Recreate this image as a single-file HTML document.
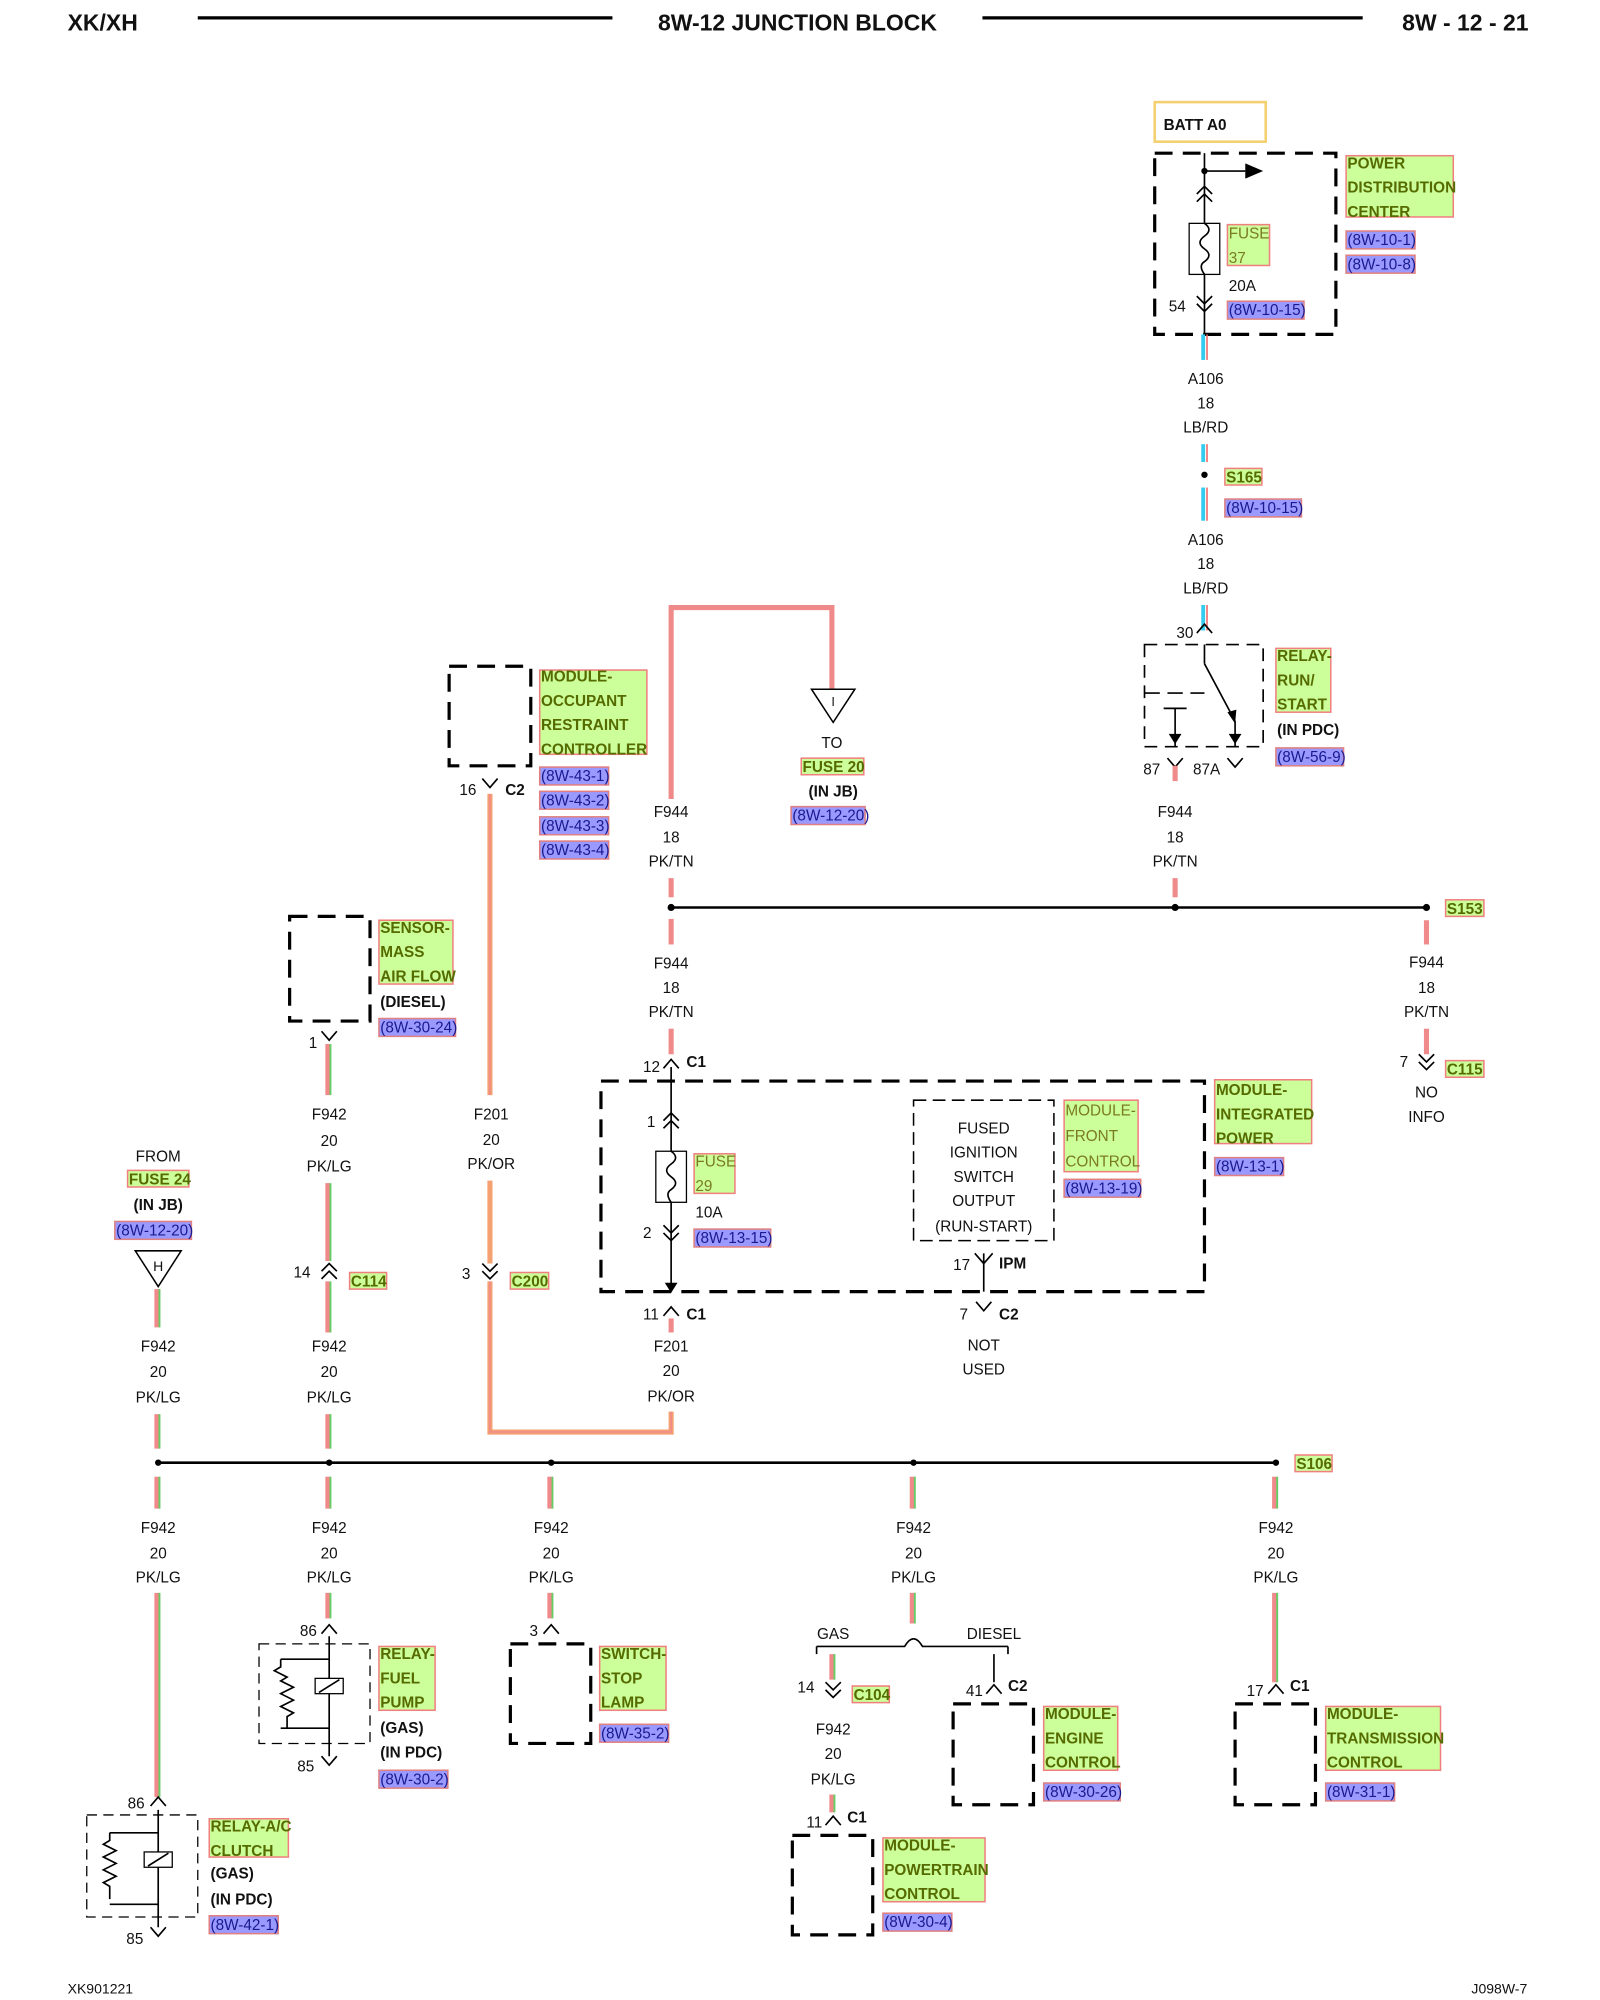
<!DOCTYPE html>
<html><head><meta charset="utf-8"><style>
html,body{margin:0;padding:0;background:#fff}
svg{display:block}
text{font-family:"Liberation Sans",sans-serif;font-size:12px;fill:#111}
.m{text-anchor:middle}
.b{font-weight:bold}
.g{fill:#556b00;font-weight:bold}
.gl{fill:#7a7a20}
.r{fill:#1a1a90}
.gb{fill:#ccff99;stroke:#f08080;stroke-width:1.2}
.rb{fill:#9999ff;stroke:#e08080;stroke-width:1.2}
.d{fill:none;stroke:#000;stroke-width:2.5;stroke-dasharray:14,8}
.k{stroke:#000;stroke-width:1.3;fill:none}
.pk{stroke:#f08a8a;stroke-width:4}
.lg{stroke:#66cc66;stroke-width:1.5}
.or{stroke:#f4a070;stroke-width:4}
</style></head><body>
<svg width="1600" height="2000" viewBox="0 0 1254 1567" preserveAspectRatio="none" xmlns="http://www.w3.org/2000/svg">
<defs>
<path id="cd" d="M-6,-6 L0,0 L6,-6 M-6,0 L0,6 L6,0" stroke="#000" stroke-width="1.3" fill="none"/>
<path id="cu" d="M-6,6 L0,0 L6,6 M-6,0 L0,-6 L6,0" stroke="#000" stroke-width="1.3" fill="none"/>
<path id="sd" d="M-6,-4 L0,3 L6,-4" stroke="#000" stroke-width="1.3" fill="none"/>
<path id="su" d="M-6,4 L0,-3 L6,4" stroke="#000" stroke-width="1.3" fill="none"/>
</defs>
<!-- header -->
<text x="53" y="24" class="b" style="font-size:18px">XK/XH</text>
<line x1="155" y1="14" x2="480" y2="14" stroke="#000" stroke-width="2.5"/>
<text x="625" y="24" class="b m" style="font-size:18px">8W-12 JUNCTION BLOCK</text>
<line x1="770" y1="14" x2="1068" y2="14" stroke="#000" stroke-width="2.5"/>
<text x="1198" y="24" class="b" text-anchor="end" style="font-size:18px">8W - 12 - 21</text>

<!-- PDC -->
<rect x="905" y="80" width="87" height="31" fill="#fff" stroke="#f5d070" stroke-width="2"/>
<text x="912" y="102" class="b">BATT A0</text>
<rect x="905" y="120" width="142" height="142" class="d"/>
<line x1="944" y1="120" x2="944" y2="262" class="k"/>
<circle cx="944" cy="134" r="2.5"/>
<line x1="944" y1="134" x2="976" y2="134" class="k"/>
<path d="M976,128 L990,134 L976,140Z"/>
<use href="#cu" x="944" y="152"/>
<rect x="932" y="175" width="24" height="40" fill="#fff" stroke="#000"/>
<path d="M944,175 q7,5 0,10 q-7,5 0,10 q7,5 0,10 q-5,3 0,10" class="k"/>
<rect x="962" y="176" width="33" height="32" class="gb"/>
<text x="963" y="187" class="gl">FUSE</text><text x="963" y="206" class="gl">37</text>
<text x="963" y="228">20A</text>
<text x="916" y="244">54</text>
<use href="#cd" x="944" y="238"/>
<rect x="962" y="236" width="60" height="14" class="rb"/><text x="963" y="247" class="r">(8W-10-15)</text>
<rect x="1055" y="122" width="84" height="48" class="gb"/>
<text x="1056" y="132" class="g">POWER</text><text x="1056" y="151" class="g">DISTRIBUTION</text><text x="1056" y="170" class="g">CENTER</text>
<rect x="1055" y="181" width="54" height="14" class="rb"/><text x="1056" y="192" class="r">(8W-10-1)</text>
<rect x="1055" y="200" width="54" height="14" class="rb"/><text x="1056" y="211" class="r">(8W-10-8)</text>

<!-- A106 -->
<line x1="943" y1="262" x2="943" y2="282" stroke="#33ccee" stroke-width="3"/><line x1="946" y1="262" x2="946" y2="282" stroke="#ee6666" stroke-width="1.2"/>
<text x="945" y="301" class="m">A106</text><text x="945" y="320" class="m">18</text><text x="945" y="339" class="m">LB/RD</text>
<line x1="943" y1="348" x2="943" y2="362" stroke="#33ccee" stroke-width="3"/><line x1="946" y1="348" x2="946" y2="362" stroke="#ee6666" stroke-width="1.2"/>
<circle cx="944" cy="372" r="2.5"/>
<rect x="960" y="367" width="29" height="13" class="gb"/><text x="961" y="378" class="g">S165</text>
<line x1="943" y1="382" x2="943" y2="408" stroke="#33ccee" stroke-width="3"/><line x1="946" y1="382" x2="946" y2="408" stroke="#ee6666" stroke-width="1.2"/>
<rect x="960" y="391" width="60" height="14" class="rb"/><text x="961" y="402" class="r">(8W-10-15)</text>
<text x="945" y="427" class="m">A106</text><text x="945" y="446" class="m">18</text><text x="945" y="465" class="m">LB/RD</text>
<line x1="943" y1="474" x2="943" y2="494" stroke="#33ccee" stroke-width="3"/><line x1="946" y1="474" x2="946" y2="494" stroke="#ee6666" stroke-width="1.2"/>
<text x="922" y="500">30</text>
<use href="#su" x="944" y="492"/>
<!-- relay run/start -->
<rect x="897" y="505" width="93" height="80" class="d" style="stroke-width:1.3;stroke-dasharray:10,6"/>
<line x1="944" y1="505" x2="944" y2="520" class="k"/>
<path d="M944,520 L968,565" class="k"/><path d="M962,558 L968,567 L969,556Z"/>
<line x1="897" y1="543" x2="944" y2="543" class="k" stroke-dasharray="12,6"/>
<line x1="921" y1="555" x2="921" y2="585" class="k"/><line x1="912" y1="555" x2="930" y2="555" class="k"/><path d="M916,575 L921,583 L926,575Z"/>
<line x1="968" y1="565" x2="968" y2="585" class="k"/><path d="M963,575 L968,583 L973,575Z"/>
<rect x="1000" y="508" width="43" height="50" class="gb"/>
<text x="1001" y="518" class="g">RELAY-</text><text x="1001" y="537" class="g">RUN/</text><text x="1001" y="556" class="g">START</text>
<text x="1001" y="576" class="b">(IN PDC)</text>
<rect x="1000" y="586" width="53" height="14" class="rb"/><text x="1001" y="597" class="r">(8W-56-9)</text>
<text x="896" y="607">87</text><text x="935" y="607">87A</text>
<use href="#sd" x="921" y="598"/><use href="#sd" x="968" y="598"/>
<text x="921" y="640" class="m">F944</text><text x="921" y="660" class="m">18</text><text x="921" y="679" class="m">PK/TN</text>
<line x1="921" y1="600" x2="921" y2="612" class="pk"/>
<line x1="921" y1="688" x2="921" y2="703" class="pk"/>

<!-- bus 1 -->
<line x1="526" y1="711" x2="1118" y2="711" stroke="#000" stroke-width="2"/>
<circle cx="526" cy="711" r="2.8"/><circle cx="921" cy="711" r="2.8"/><circle cx="1118" cy="711" r="2.8"/>
<rect x="1133" y="705" width="30" height="13" class="gb"/><text x="1134" y="716" class="g">S153</text>
<line x1="1118" y1="721" x2="1118" y2="740" class="pk"/>
<text x="1118" y="758" class="m">F944</text><text x="1118" y="778" class="m">18</text><text x="1118" y="797" class="m">PK/TN</text>
<line x1="1118" y1="806" x2="1118" y2="826" class="pk"/>
<use href="#cd" x="1118" y="832"/>
<text x="1097" y="836">7</text>
<rect x="1133" y="831" width="30" height="13" class="gb"/><text x="1134" y="842" class="g">C115</text>
<text x="1118" y="860" class="m">NO</text><text x="1118" y="879" class="m">INFO</text>

<!-- top loop to fuse 20 -->
<path d="M526,626 L526,476 L652,476 L652,540" fill="none" class="pk"/>
<path d="M636,540 L670,540 L653,566Z" fill="#fff" stroke="#000" stroke-width="1.2"/>
<text x="653" y="553" class="m" style="font-size:10px">I</text>
<text x="652" y="586" class="m">TO</text>
<rect x="628" y="594" width="49" height="13" class="gb"/><text x="629" y="605" class="g">FUSE 20</text>
<text x="653" y="624" class="m b">(IN JB)</text>
<rect x="620" y="632" width="58" height="14" class="rb"/><text x="621" y="643" class="r">(8W-12-20)</text>
<text x="526" y="640" class="m">F944</text><text x="526" y="660" class="m">18</text><text x="526" y="679" class="m">PK/TN</text>
<line x1="526" y1="688" x2="526" y2="703" class="pk"/>
<line x1="526" y1="720" x2="526" y2="740" class="pk"/>
<text x="526" y="759" class="m">F944</text><text x="526" y="778" class="m">18</text><text x="526" y="797" class="m">PK/TN</text>
<line x1="526" y1="806" x2="526" y2="826" class="pk"/>
<text x="504" y="840">12</text><text x="538" y="836" class="b">C1</text>
<use href="#su" x="526" y="833"/>

<!-- junction block -->
<rect x="471" y="847" width="473" height="165" class="d"/>
<line x1="526" y1="836" x2="526" y2="1012" class="k"/>
<use href="#cu" x="526" y="878"/>
<text x="507" y="883">1</text>
<rect x="514" y="902" width="24" height="40" fill="#fff" stroke="#000"/>
<path d="M526,902 q7,5 0,10 q-7,5 0,10 q7,5 0,10 q-5,3 0,10" class="k"/>
<rect x="544" y="904" width="32" height="31" class="gb"/>
<text x="545" y="914" class="gl">FUSE</text><text x="545" y="933" class="gl">29</text>
<text x="545" y="954">10A</text>
<rect x="544" y="963" width="60" height="14" class="rb"/><text x="545" y="974" class="r">(8W-13-15)</text>
<text x="504" y="970">2</text>
<use href="#cd" x="526" y="966"/>
<path d="M521,1005 L526,1013 L531,1005Z"/>
<rect x="716" y="862" width="110" height="110" class="d" style="stroke-width:1.2;stroke-dasharray:10,5"/>
<text x="771" y="888" class="m">FUSED</text><text x="771" y="907" class="m">IGNITION</text><text x="771" y="926" class="m">SWITCH</text><text x="771" y="945" class="m">OUTPUT</text><text x="771" y="965" class="m">(RUN-START)</text>
<rect x="834" y="862" width="58" height="56" class="gb"/>
<text x="835" y="874" class="gl">MODULE-</text><text x="835" y="894" class="gl">FRONT</text><text x="835" y="914" class="gl">CONTROL</text>
<rect x="834" y="924" width="60" height="14" class="rb"/><text x="835" y="935" class="r">(8W-13-19)</text>
<line x1="771" y1="982" x2="771" y2="1012" class="k"/>
<path d="M764,982 L771,990 L778,982" class="k"/>
<text x="747" y="995">17</text><text x="783" y="994" class="b">IPM</text>
<rect x="952" y="846" width="76" height="50" class="gb"/>
<text x="953" y="858" class="g">MODULE-</text><text x="953" y="877" class="g">INTEGRATED</text><text x="953" y="896" class="g">POWER</text>
<rect x="952" y="907" width="54" height="14" class="rb"/><text x="953" y="918" class="r">(8W-13-1)</text>
<text x="752" y="1034">7</text><use href="#sd" x="771" y="1024"/><text x="783" y="1034" class="b">C2</text>
<text x="771" y="1058" class="m">NOT</text><text x="771" y="1077" class="m">USED</text>
<text x="504" y="1034">11</text><use href="#su" x="526" y="1027"/><text x="538" y="1034" class="b">C1</text>

<!-- F201 -->
<line x1="526" y1="1033" x2="526" y2="1044" class="pk"/>
<text x="526" y="1059" class="m">F201</text><text x="526" y="1078" class="m">20</text><text x="526" y="1098" class="m">PK/OR</text>
<path d="M526,1106 L526,1122 L384,1122 L384,1004" fill="none" class="or"/>
<path d="M526,1106 L526,1122 L384,1122 L384,1004" fill="none" stroke="#f08a8a" stroke-width="1.2"/>
<line x1="384" y1="622" x2="384" y2="858" class="or"/><line x1="384" y1="622" x2="384" y2="858" stroke="#f08a8a" stroke-width="1.2"/>
<text x="385" y="877" class="m">F201</text><text x="385" y="897" class="m">20</text><text x="385" y="916" class="m">PK/OR</text>
<line x1="384" y1="925" x2="384" y2="990" class="or"/>
<use href="#cd" x="384" y="996"/>
<text x="362" y="1002">3</text>
<rect x="400" y="997" width="30" height="13" class="gb"/><text x="401" y="1008" class="g">C200</text>

<!-- MORC -->
<rect x="352" y="522" width="64" height="78" class="d"/>
<rect x="423" y="525" width="84" height="66" class="gb"/>
<text x="424" y="534" class="g">MODULE-</text><text x="424" y="553" class="g">OCCUPANT</text><text x="424" y="572" class="g">RESTRAINT</text><text x="424" y="591" class="g">CONTROLLER</text>
<rect x="423" y="601" width="54" height="14" class="rb"/><text x="424" y="612" class="r">(8W-43-1)</text>
<rect x="423" y="620" width="54" height="14" class="rb"/><text x="424" y="631" class="r">(8W-43-2)</text>
<rect x="423" y="640" width="54" height="14" class="rb"/><text x="424" y="651" class="r">(8W-43-3)</text>
<rect x="423" y="659" width="54" height="14" class="rb"/><text x="424" y="670" class="r">(8W-43-4)</text>
<text x="360" y="623">16</text><use href="#sd" x="384" y="614"/><text x="396" y="623" class="b">C2</text>

<!-- MAF -->
<rect x="227" y="718" width="63" height="82" class="d"/>
<rect x="297" y="721" width="58" height="50" class="gb"/>
<text x="298" y="731" class="g">SENSOR-</text><text x="298" y="750" class="g">MASS</text><text x="298" y="769" class="g">AIR FLOW</text>
<text x="298" y="789" class="b">(DIESEL)</text>
<rect x="297" y="798" width="60" height="14" class="rb"/><text x="298" y="809" class="r">(8W-30-24)</text>
<text x="242" y="821">1</text><use href="#sd" x="258" y="812"/>
<g>
<line x1="257" y1="818" x2="257" y2="858" class="pk"/><line x1="259" y1="818" x2="259" y2="858" class="lg"/>
<line x1="257" y1="927" x2="257" y2="988" class="pk"/><line x1="259" y1="927" x2="259" y2="988" class="lg"/>
<line x1="257" y1="1004" x2="257" y2="1044" class="pk"/><line x1="259" y1="1004" x2="259" y2="1044" class="lg"/>
<line x1="257" y1="1108" x2="257" y2="1135" class="pk"/><line x1="259" y1="1108" x2="259" y2="1135" class="lg"/>
</g>
<text x="258" y="877" class="m">F942</text><text x="258" y="898" class="m">20</text><text x="258" y="918" class="m">PK/LG</text>
<text x="230" y="1001">14</text><use href="#cu" x="258" y="996"/>
<rect x="274" y="997" width="29" height="13" class="gb"/><text x="275" y="1008" class="g">C114</text>
<text x="258" y="1059" class="m">F942</text><text x="258" y="1079" class="m">20</text><text x="258" y="1099" class="m">PK/LG</text>

<!-- left from fuse 24 -->
<text x="124" y="910" class="m">FROM</text>
<rect x="100" y="917" width="48" height="13" class="gb"/><text x="101" y="928" class="g">FUSE 24</text>
<text x="124" y="948" class="m b">(IN JB)</text>
<rect x="90" y="957" width="60" height="14" class="rb"/><text x="91" y="968" class="r">(8W-12-20)</text>
<path d="M106,980 L142,980 L124,1008Z" fill="#fff" stroke="#000" stroke-width="1.2"/>
<text x="124" y="996" class="m" style="font-size:11px">H</text>
<line x1="123" y1="1010" x2="123" y2="1040" class="pk"/><line x1="125" y1="1010" x2="125" y2="1040" class="lg"/>
<text x="124" y="1059" class="m">F942</text><text x="124" y="1079" class="m">20</text><text x="124" y="1099" class="m">PK/LG</text>
<line x1="123" y1="1108" x2="123" y2="1135" class="pk"/><line x1="125" y1="1108" x2="125" y2="1135" class="lg"/>

<!-- bus 2 -->
<line x1="124" y1="1146" x2="1000" y2="1146" stroke="#000" stroke-width="2"/>
<circle cx="124" cy="1146" r="2.5"/><circle cx="258" cy="1146" r="2.5"/><circle cx="432" cy="1146" r="2.5"/><circle cx="716" cy="1146" r="2.5"/><circle cx="1000" cy="1146" r="2.5"/>
<rect x="1015" y="1140" width="29" height="13" class="gb"/><text x="1016" y="1151" class="g">S106</text>
<g>
<line x1="123" y1="1157" x2="123" y2="1182" class="pk"/><line x1="125" y1="1157" x2="125" y2="1182" class="lg"/>
<line x1="257" y1="1157" x2="257" y2="1182" class="pk"/><line x1="259" y1="1157" x2="259" y2="1182" class="lg"/>
<line x1="431" y1="1157" x2="431" y2="1182" class="pk"/><line x1="433" y1="1157" x2="433" y2="1182" class="lg"/>
<line x1="715" y1="1157" x2="715" y2="1182" class="pk"/><line x1="717" y1="1157" x2="717" y2="1182" class="lg"/>
<line x1="999" y1="1157" x2="999" y2="1182" class="pk"/><line x1="1001" y1="1157" x2="1001" y2="1182" class="lg"/>
</g>
<text x="124" y="1201" class="m">F942</text><text x="124" y="1221" class="m">20</text><text x="124" y="1240" class="m">PK/LG</text>
<text x="258" y="1201" class="m">F942</text><text x="258" y="1221" class="m">20</text><text x="258" y="1240" class="m">PK/LG</text>
<text x="432" y="1201" class="m">F942</text><text x="432" y="1221" class="m">20</text><text x="432" y="1240" class="m">PK/LG</text>
<text x="716" y="1201" class="m">F942</text><text x="716" y="1221" class="m">20</text><text x="716" y="1240" class="m">PK/LG</text>
<text x="1000" y="1201" class="m">F942</text><text x="1000" y="1221" class="m">20</text><text x="1000" y="1240" class="m">PK/LG</text>

<!-- relay A/C -->
<line x1="123" y1="1248" x2="123" y2="1408" class="pk"/><line x1="125" y1="1248" x2="125" y2="1408" class="lg"/>
<text x="100" y="1417">86</text><use href="#su" x="124" y="1411"/>
<rect x="68" y="1422" width="87" height="80" class="d" style="stroke-width:1;stroke-dasharray:8,5"/>
<path d="M124,1418 L124,1510 M86,1436 L124,1436 M86,1492 L124,1492 M86,1436 l0,6 l-5,3 l10,5 l-10,5 l10,5 l-10,5 l10,5 l-10,5 l5,3 l0,10" class="k"/>
<rect x="113" y="1451" width="22" height="12" fill="#fff" stroke="#000"/><line x1="116" y1="1462" x2="132" y2="1452" class="k"/>
<rect x="164" y="1425" width="62" height="30" class="gb"/>
<text x="165" y="1435" class="g">RELAY-A/C</text><text x="165" y="1454" class="g">CLUTCH</text>
<text x="165" y="1472" class="b">(GAS)</text><text x="165" y="1492" class="b">(IN PDC)</text>
<rect x="164" y="1501" width="54" height="14" class="rb"/><text x="165" y="1512" class="r">(8W-42-1)</text>
<text x="99" y="1523">85</text><use href="#sd" x="124" y="1514"/>

<!-- relay fuel pump -->
<line x1="257" y1="1248" x2="257" y2="1268" class="pk"/><line x1="259" y1="1248" x2="259" y2="1268" class="lg"/>
<text x="235" y="1282">86</text><use href="#su" x="258" y="1276"/>
<rect x="203" y="1288" width="87" height="78" class="d" style="stroke-width:1;stroke-dasharray:8,5"/>
<path d="M258,1282 L258,1376 M220,1300 L258,1300 M220,1354 L258,1354 M220,1300 l0,6 l-5,3 l10,5 l-5,3 l10,5 l-10,5 l10,5 l-10,5 l10,5 l-5,3 l0,9" class="k"/>
<rect x="247" y="1315" width="22" height="12" fill="#fff" stroke="#000"/><line x1="250" y1="1326" x2="266" y2="1316" class="k"/>
<rect x="297" y="1290" width="44" height="50" class="gb"/>
<text x="298" y="1300" class="g">RELAY-</text><text x="298" y="1319" class="g">FUEL</text><text x="298" y="1338" class="g">PUMP</text>
<text x="298" y="1358" class="b">(GAS)</text><text x="298" y="1377" class="b">(IN PDC)</text>
<rect x="297" y="1387" width="54" height="14" class="rb"/><text x="298" y="1398" class="r">(8W-30-2)</text>
<text x="233" y="1388">85</text><use href="#sd" x="258" y="1380"/>

<!-- stop lamp -->
<line x1="431" y1="1248" x2="431" y2="1268" class="pk"/><line x1="433" y1="1248" x2="433" y2="1268" class="lg"/>
<text x="415" y="1282">3</text><use href="#su" x="432" y="1276"/>
<rect x="400" y="1288" width="63" height="78" class="d"/>
<rect x="470" y="1290" width="52" height="50" class="gb"/>
<text x="471" y="1300" class="g">SWITCH-</text><text x="471" y="1319" class="g">STOP</text><text x="471" y="1338" class="g">LAMP</text>
<rect x="470" y="1351" width="54" height="14" class="rb"/><text x="471" y="1362" class="r">(8W-35-2)</text>

<!-- gas/diesel fork -->
<line x1="715" y1="1248" x2="715" y2="1272" class="pk"/><line x1="717" y1="1248" x2="717" y2="1272" class="lg"/>
<path d="M640,1290 L709,1290 Q716,1278 723,1290 L790,1290" class="k"/>
<line x1="640" y1="1290" x2="640" y2="1296" class="k"/><line x1="790" y1="1290" x2="790" y2="1296" class="k"/>
<text x="653" y="1284" class="m">GAS</text><text x="779" y="1284" class="m">DIESEL</text>
<line x1="652" y1="1296" x2="652" y2="1316" class="pk"/><line x1="654" y1="1296" x2="654" y2="1316" class="lg"/>
<text x="625" y="1326">14</text><use href="#cd" x="653" y="1324"/>
<rect x="668" y="1321" width="29" height="13" class="gb"/><text x="669" y="1332" class="g">C104</text>
<text x="653" y="1359" class="m">F942</text><text x="653" y="1378" class="m">20</text><text x="653" y="1398" class="m">PK/LG</text>
<line x1="652" y1="1406" x2="652" y2="1420" class="pk"/><line x1="654" y1="1406" x2="654" y2="1420" class="lg"/>
<text x="632" y="1432">11</text><use href="#su" x="653" y="1426"/><text x="664" y="1428" class="b">C1</text>
<rect x="621" y="1438" width="63" height="78" class="d"/>
<rect x="692" y="1440" width="80" height="50" class="gb"/>
<text x="693" y="1450" class="g">MODULE-</text><text x="693" y="1469" class="g">POWERTRAIN</text><text x="693" y="1488" class="g">CONTROL</text>
<rect x="692" y="1499" width="54" height="14" class="rb"/><text x="693" y="1510" class="r">(8W-30-4)</text>

<line x1="779" y1="1296" x2="779" y2="1318" class="k"/>
<text x="757" y="1329">41</text><use href="#su" x="779" y="1323"/><text x="790" y="1325" class="b">C2</text>
<rect x="747" y="1335" width="63" height="79" class="d"/>
<rect x="818" y="1337" width="58" height="50" class="gb"/>
<text x="819" y="1347" class="g">MODULE-</text><text x="819" y="1366" class="g">ENGINE</text><text x="819" y="1385" class="g">CONTROL</text>
<rect x="818" y="1397" width="60" height="14" class="rb"/><text x="819" y="1408" class="r">(8W-30-26)</text>

<!-- TCM -->
<line x1="999" y1="1248" x2="999" y2="1318" class="pk"/><line x1="1001" y1="1248" x2="1001" y2="1318" class="lg"/>
<text x="977" y="1329">17</text><use href="#su" x="1000" y="1323"/><text x="1011" y="1325" class="b">C1</text>
<rect x="968" y="1335" width="63" height="79" class="d"/>
<rect x="1039" y="1337" width="90" height="50" class="gb"/>
<text x="1040" y="1347" class="g">MODULE-</text><text x="1040" y="1366" class="g">TRANSMISSION</text><text x="1040" y="1385" class="g">CONTROL</text>
<rect x="1039" y="1397" width="54" height="14" class="rb"/><text x="1040" y="1408" class="r">(8W-31-1)</text>

<!-- footer -->
<text x="53" y="1562" style="font-size:11px">XK901221</text>
<text x="1197" y="1562" text-anchor="end" style="font-size:11px">J098W-7</text>
</svg>
</body></html>
